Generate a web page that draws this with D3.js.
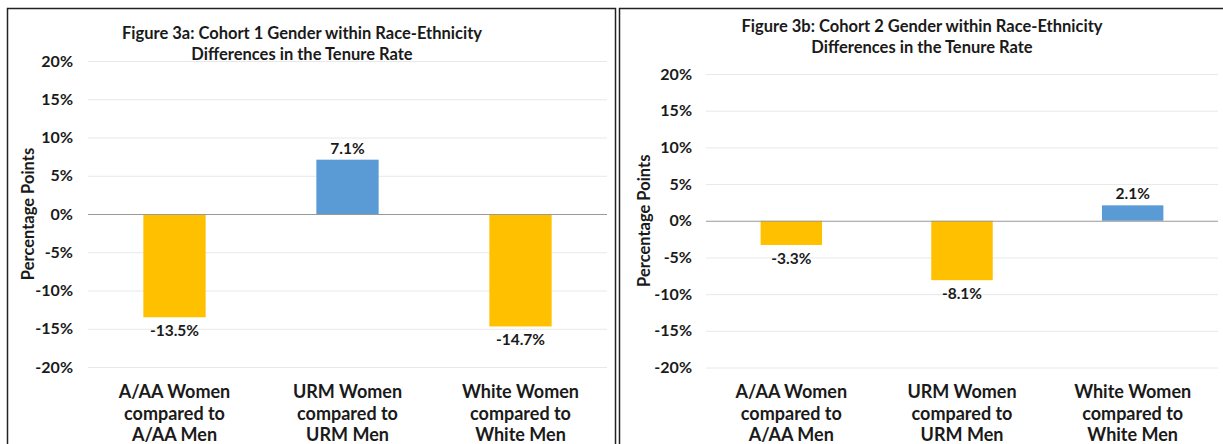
<!DOCTYPE html>
<html>
<head>
<meta charset="utf-8">
<script src="https://cdn.jsdelivr.net/npm/d3@7"></script>
<style>
  body { margin: 0; background: #fff; }
  svg text { font-family: Lato, "Open Sans", sans-serif; font-weight: bold; fill: #1a1a1a; }
</style>
</head>
<body>
<div id="chart"></div>
<script>
// data
var categories = [
  ["A/AA Women", "compared to", "A/AA Men"],
  ["URM Women", "compared to", "URM Men"],
  ["White Women", "compared to", "White Men"]
];
var cohort1Values = [-13.5, 7.1, -14.7];
var cohort2Values = [-3.3, -8.1, 2.1];
var yTicks = [-20, -15, -10, -5, 0, 5, 10, 15, 20];
var title1 = ["Figure 3a: Cohort 1 Gender within Race-Ethnicity", "Differences in the Tenure Rate"];
var title2 = ["Figure 3b: Cohort 2 Gender within Race-Ethnicity", "Differences in the Tenure Rate"];

var posColor = "#5B9BD5";
var negColor = "#FFC000";

var svg = d3.select("#chart").append("svg")
  .attr("width", 1223)
  .attr("height", 444);

// panel frames
svg.append("rect").attr("x", 7.5).attr("y", 8.5).attr("width", 608).attr("height", 450)
  .attr("fill", "none").attr("stroke", "#222").attr("stroke-width", 1.5);
svg.append("rect").attr("x", 619.5).attr("y", 8.5).attr("width", 620).attr("height", 450)
  .attr("fill", "none").attr("stroke", "#222").attr("stroke-width", 1.5);

function draw_panel(values, title, cfg) {
  var g = svg.append("g");

  var x = d3.scaleBand()
    .domain(d3.range(categories.length))
    .range([cfg.left, cfg.right])
    .paddingInner(0.64)
    .paddingOuter(0.32);
  var y = d3.scaleLinear()
    .domain([-20, 20])
    .range([cfg.bottom, cfg.top]);

  // gridlines
  g.append("g").selectAll("line")
    .data(yTicks.filter(function(d) { return d !== 0; }))
    .enter().append("line")
    .attr("x1", cfg.left).attr("x2", cfg.right)
    .attr("y1", function(d) { return y(d) + 0.5; })
    .attr("y2", function(d) { return y(d) + 0.5; })
    .attr("stroke", "#e8e8e8").attr("stroke-width", 1);

  // y axis labels
  var yAxis = d3.axisLeft(y).tickValues(yTicks).tickSize(0).tickPadding(0)
    .tickFormat(function(d) { return d + "%"; });
  var ya = g.append("g")
    .attr("transform", "translate(" + cfg.tickX + ",0)")
    .call(yAxis);
  ya.select(".domain").remove();
  ya.selectAll("text").attr("font-size", 16).attr("fill", "#1a1a1a")
    .style("font-family", "Lato, sans-serif").style("font-weight", "bold");

  // bars
  g.selectAll(".bar")
    .data(values)
    .enter().append("rect")
    .attr("x", function(d, i) { return x(i); })
    .attr("width", x.bandwidth())
    .attr("y", function(d) { return y(Math.max(0, d)); })
    .attr("height", function(d) { return Math.abs(y(d) - y(0)); })
    .attr("fill", function(d) { return d >= 0 ? posColor : negColor; });

  // zero line
  g.append("line")
    .attr("x1", cfg.left).attr("x2", cfg.right)
    .attr("y1", y(0) + 0.5).attr("y2", y(0) + 0.5)
    .attr("stroke", "#999").attr("stroke-width", 1);

  // value labels
  g.selectAll(".val")
    .data(values)
    .enter().append("text")
    .attr("x", function(d, i) { return x(i) + x.bandwidth() / 2; })
    .attr("y", function(d) { return d >= 0 ? y(d) - 6 : y(d) + 19; })
    .attr("text-anchor", "middle")
    .attr("font-size", 15.5)
    .text(function(d) { return d.toFixed(1) + "%"; });

  // category labels
  var cat = g.selectAll(".cat")
    .data(categories)
    .enter().append("text")
    .attr("text-anchor", "middle")
    .attr("font-size", 18);
  cat.selectAll("tspan")
    .data(function(d, i) { return d.map(function(t) { return { t: t, i: i }; }); })
    .enter().append("tspan")
    .attr("x", function(d) { return x(d.i) + x.bandwidth() / 2; })
    .attr("y", function(d, j) { return cfg.catY + j * 21.7; })
    .text(function(d) { return d.t; });

  // axis title
  g.append("text")
    .attr("transform", "translate(" + cfg.axisTitleX + "," + y(0) + ") rotate(-90)")
    .attr("text-anchor", "middle")
    .attr("font-size", 16.5)
    .text("Percentage Points");

  // chart title
  g.selectAll(".title")
    .data(title)
    .enter().append("text")
    .attr("x", cfg.titleX)
    .attr("y", function(d, i) { return cfg.titleY + i * 21; })
    .attr("text-anchor", "middle")
    .attr("font-size", 16.5)
    .text(function(d) { return d; });
}

draw_panel(cohort1Values, title1, {
  left: 88, right: 607, top: 61, bottom: 367,
  tickX: 73, axisTitleX: 34, catY: 398, titleX: 302, titleY: 39
});
draw_panel(cohort2Values, title2, {
  left: 706, right: 1218, top: 74, bottom: 367.5,
  tickX: 692, axisTitleX: 650, catY: 398, titleX: 922, titleY: 32
});
</script>
</body>
</html>
